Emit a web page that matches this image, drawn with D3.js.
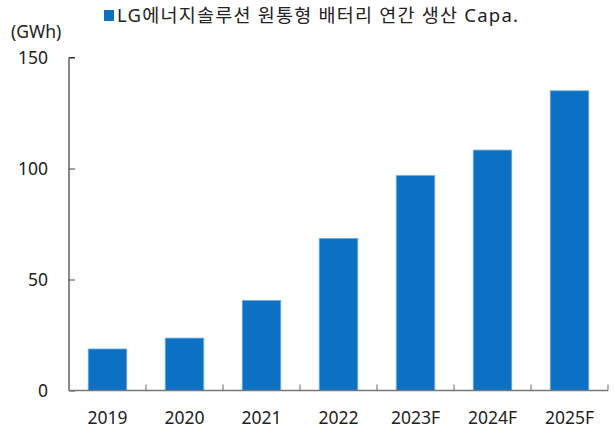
<!DOCTYPE html>
<html>
<head>
<meta charset="utf-8">
<script src="https://cdn.jsdelivr.net/npm/d3@7"></script>
<style>
  body { margin: 0; background: #fff; }
  svg text { font-family: "Noto Sans", "Noto Sans CJK KR", sans-serif; fill: #222; }
</style>
</head>
<body>
<div id="chart"></div>
<script>
var years = ['2019', '2020', '2021', '2022', '2023F', '2024F', '2025F'];
var capa = [18.7, 23.6, 40.5, 68.5, 96.8, 108.3, 135];
var yTicks = [0, 50, 100, 150];
var seriesName = 'LG에너지솔루션 원통형 배터리 연간 생산 Capa.';

var w = 614, h = 430;
var plotLeft = 69, plotRight = 608, plotTop = 57.5, plotBottom = 390.5;

var svg = d3.select('#chart').append('svg').attr('width', w).attr('height', h);

var x = d3.scaleBand().domain(years).range([plotLeft, plotRight]).paddingInner(0.5).paddingOuter(0.25);
var y = d3.scaleLinear().domain([0, 150]).range([plotBottom, plotTop]);

// bars
svg.selectAll('rect.bar').data(capa).enter().append('rect')
   .attr('class', 'bar')
   .attr('x', function (d, i) { return x(years[i]); })
   .attr('y', function (d) { return y(d); })
   .attr('width', x.bandwidth())
   .attr('height', function (d) { return plotBottom - y(d); })
   .attr('fill', '#0c70c3')
   .attr('stroke', '#6aa9e0')
   .attr('stroke-width', 0.8);

// y axis
var yAxis = d3.axisRight(y).tickValues(yTicks).tickSize(6).tickFormat('');
var gy = svg.append('g').attr('transform', 'translate(' + plotLeft + ',0)').call(yAxis);
gy.select('.domain').attr('stroke', '#111').attr('d', 'M6,' + plotTop + 'H0V' + plotBottom);
gy.selectAll('.tick line').attr('stroke', '#444');

svg.selectAll('text.ylab').data(yTicks).enter().append('text')
   .attr('x', 48).attr('y', function (d) { return y(d); })
   .attr('dy', '0.35em').attr('text-anchor', 'end')
   .style('font-size', '17.5px').text(function (d) { return d; });

// x axis
var boundaries = d3.range(1, years.length + 1).map(function (i) { return plotLeft + (plotRight - plotLeft) / years.length * i; });
svg.append('line').attr('x1', plotLeft).attr('x2', plotRight).attr('y1', plotBottom).attr('y2', plotBottom)
   .attr('stroke', '#777').attr('stroke-width', 1.5);
svg.selectAll('line.xt').data(boundaries).enter().append('line')
   .attr('x1', function (d) { return d; }).attr('x2', function (d) { return d; })
   .attr('y1', plotBottom - 6).attr('y2', plotBottom)
   .attr('stroke', '#666');

svg.selectAll('text.xlab').data(years).enter().append('text')
   .attr('x', function (d) { return x(d) + x.bandwidth() / 2; })
   .attr('y', 418).attr('dy', '0.35em').attr('text-anchor', 'middle')
   .style('font-size', '17.5px').text(function (d) { return d; });

// unit + legend
svg.append('text').text('(GWh)').attr('x', 11).attr('y', 32).attr('dy', '0.35em').style('font-size', '17.5px');
svg.append('rect').attr('x', 104).attr('y', 10).attr('width', 10).attr('height', 11).attr('fill', '#0c70c3');
svg.append('text').text(seriesName).attr('x', 117).attr('y', 16).attr('dy', '0.35em')
   .style('font-size', '18.5px').attr('textLength', 401).attr('lengthAdjust', 'spacing');
</script>
</body>
</html>
